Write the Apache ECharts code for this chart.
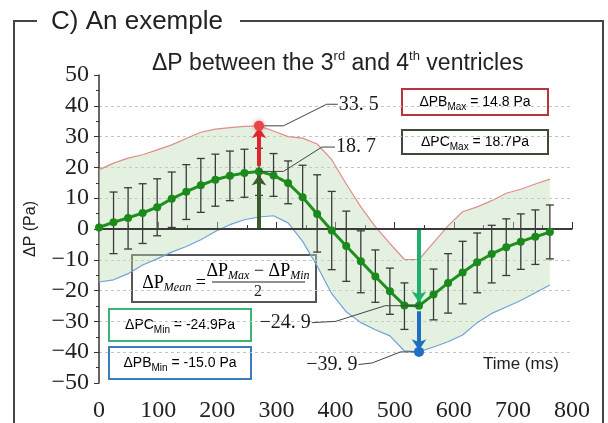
<!DOCTYPE html>
<html>
<head>
<meta charset="utf-8">
<script src="https://cdn.jsdelivr.net/npm/echarts@6/dist/echarts.min.js"></script>
<style>
  html, body { margin: 0; padding: 0; background: #fff; }
  #chart { width: 608px; height: 423px; }
</style>
</head>
<body>
<div id="chart"></div>
<script>
  // time of each sample (ms)
  var times = [0, 24.6, 49.2, 73.8, 98.4, 123, 147.6, 172.2, 196.8, 221.4, 246, 270.6, 295.2, 319.8, 344.4, 369,
    393.6, 418.2, 442.8, 467.4, 492, 516.6, 541.2, 565.8, 590.4, 615, 639.6, 664.2, 688.8, 713.4, 738, 762.6];
  // mean dP (green line)
  var meanPC = [0.5, 2.2, 3.6, 5.2, 7.1, 9.8, 12.1, 14.2, 16.0, 17.3, 18.2, 18.7, 17.4, 14.9, 10.3, 4.9,
    -0.5, -5.5, -10.5, -15.4, -20.2, -24.8, -24.9, -21.3, -17.5, -14.1, -10.8, -8.1, -5.9, -4.1, -2.5, -1.0];
  // error bar ends
  var barTop = [null, 12.0, 13.4, 14.7, 16.3, 18.5, 20.9, 22.9, 24.3, 25.3, 25.9, 26.2, 24.5, 22.1, 20.7, 17.6,
    12.2, 5.8, -0.6, -6.8, -12.7, -17.5, null, -13.0, -8.0, -4.0, -1.3, 1.2, 3.3, 4.9, 6.2, 7.8];
  var barBottom = [null, -8.0, -6.5, -4.7, -2.2, 0.5, 3.1, 5.4, 7.4, 9.2, 10.3, 10.9, 10.6, 8.2, 0.0, -7.5,
    -13.2, -17.0, -20.7, -23.8, -27.7, -32.6, null, -29.5, -27.3, -24.3, -20.7, -17.5, -15.1, -13.1, -11.5, -9.7];
  // envelope max (red) / min (blue)
  var maxPB = [19.2, 21.4, 23.0, 24.1, 25.7, 27.3, 29.4, 31.4, 32.4, 32.9, 33.3, 33.5, 31.8, 30.0, 29.5, 27.6,
    22.5, 14.6, 7.2, 0.8, -4.7, -9.9, -9.9, -4.4, 1.0, 5.6, 7.2, 9.2, 11.6, 12.9, 14.6, 16.2];
  var minPB = [-17.2, -16.5, -14.5, -11.7, -9.7, -7.5, -5.7, -3.5, -0.8, 1.4, 3.0, 3.9, 4.3, 2.0, -4.0, -12.0,
    -21.0, -26.9, -30.4, -32.7, -34.7, -39.6, -39.9, -38.3, -36.6, -34.4, -30.4, -27.4, -25.3, -23.2, -20.7, -18.2];
  var xTicks = [0, 100, 200, 300, 400, 500, 600, 700, 800];

  var iMax = 11, iMin = 22;
  var serif = '"Liberation Serif", "DejaVu Serif", serif';
  var sans = '"Liberation Sans", Arial, sans-serif';

  function pairs(arr) {
    return times.map(function (t, i) { return [t, arr[i]]; });
  }

  var chart = echarts.init(document.getElementById('chart'));

  function boxText(x, y, w, h, color, txt) {
    return {
      type: 'group', left: x, top: y,
      children: [
        { type: 'rect', shape: { x: 0, y: 0, width: w, height: h },
          style: { fill: '#fff', stroke: color, lineWidth: 2 } },
        { type: 'text', x: w / 2, y: h / 2,
          style: { text: txt, align: 'center', verticalAlign: 'middle',
            rich: {
              m: { fontFamily: sans, fontSize: 14, color: '#111', lineHeight: 20, verticalAlign: 'middle' },
              s: { fontFamily: sans, fontSize: 10, color: '#111', lineHeight: 12, verticalAlign: 'bottom' }
            } } }
      ]
    };
  }

  var formulaRich = {
    m: { fontFamily: serif, fontSize: 18, color: '#222', lineHeight: 22, verticalAlign: 'middle' },
    s: { fontFamily: serif, fontSize: 12, fontStyle: 'italic', color: '#222', lineHeight: 12, verticalAlign: 'bottom' }
  };

  var option = {
    animation: false,
    backgroundColor: '#fff',
    title: {
      text: '{m|ΔP between the 3}{s|rd}{m| and 4}{s|th}{m| ventricles}',
      left: 147, top: 45,
      textStyle: {
        fontWeight: 'normal',
        rich: {
          m: { fontFamily: sans, fontSize: 23, fontWeight: 'normal', color: '#222', lineHeight: 27, verticalAlign: 'middle' },
          s: { fontFamily: sans, fontSize: 13, fontWeight: 'normal', color: '#222', lineHeight: 13, verticalAlign: 'top' }
        }
      }
    },
    grid: { left: 99, right: 36, top: 75, bottom: 39 },
    xAxis: {
      type: 'value', min: 0, max: 800, interval: 100,
      axisLine: { lineStyle: { color: '#333', width: 1.5 } },
      axisTick: { inside: true, length: 7, lineStyle: { color: '#333' } },
      minorTick: { show: true, splitNumber: 2, length: 4, lineStyle: { color: '#333' } },
      splitLine: { show: false },
      axisLabel: { margin: 16, fontFamily: serif, fontSize: 24, color: '#222',
        customValues: xTicks }
    },
    yAxis: {
      type: 'value', min: -50, max: 50, interval: 10,
      name: 'ΔP (Pa)', nameLocation: 'middle', nameGap: 60, nameRotate: 90,
      nameTextStyle: { fontFamily: sans, fontSize: 16, color: '#222' },
      axisLine: { show: true, lineStyle: { color: '#333', width: 1.5 } },
      axisTick: { length: 5, lineStyle: { color: '#333' } },
      minorTick: { show: true, splitNumber: 2, length: 3, lineStyle: { color: '#333' } },
      splitLine: { show: true, showMinLine: false, showMaxLine: false,
        lineStyle: { color: '#c4c4c4', type: [3, 3], width: 1 } },
      axisLabel: { margin: 10, fontFamily: serif, fontSize: 24, color: '#222',
        formatter: function (v) { return v < 0 ? '\u2212' + (-v) : String(v); } }
    },
    graphic: [
      // frame
      { type: 'line', shape: { x1: 13, y1: 21, x2: 37, y2: 21 }, style: { stroke: '#444', lineWidth: 2 } },
      { type: 'line', shape: { x1: 14, y1: 20, x2: 14, y2: 423 }, style: { stroke: '#444', lineWidth: 2 } },
      { type: 'line', shape: { x1: 240, y1: 21, x2: 603, y2: 21 }, style: { stroke: '#444', lineWidth: 2 } },
      { type: 'line', shape: { x1: 603, y1: 20, x2: 603, y2: 423 }, style: { stroke: '#444', lineWidth: 2 } },
      { type: 'text', left: 51, top: 9,
        style: { text: 'C) An exemple', fontFamily: sans, fontSize: 26, fill: '#222' } },
      { type: 'text', left: 483, top: 356,
        style: { text: 'Time (ms)', fontFamily: sans, fontSize: 17, fill: '#222' } },
      boxText(401, 88, 146, 26, '#b8343c', '{m|ΔPB}{s|Max}{m| = 14.8 Pa}'),
      boxText(401, 129, 146, 24, '#3e4a38', '{m|ΔPC}{s|Max}{m| = 18.7Pa}'),
      boxText(108, 308, 142, 32, '#3cb474', '{m|ΔPC}{s|Min}{m| = -24.9Pa}'),
      boxText(108, 346, 142, 32, '#3a7dbf', '{m|ΔPB}{s|Min}{m| = -15.0 Pa}'),
      {
        type: 'group', left: 131, top: 254,
        children: [
          { type: 'rect', shape: { x: 0, y: 0, width: 184, height: 47 },
            style: { fill: '#fff', stroke: '#555', lineWidth: 2 } },
          { type: 'text', x: 42, y: 28,
            style: { text: '{m|ΔP}{s|Mean}{m| =}', align: 'center', verticalAlign: 'middle', rich: formulaRich } },
          { type: 'text', x: 126, y: 16,
            style: { text: '{m|ΔP}{s|Max}{m| − ΔP}{s|Min}', align: 'center', verticalAlign: 'middle', rich: formulaRich } },
          { type: 'line', shape: { x1: 80, y1: 27, x2: 173, y2: 27 }, style: { stroke: '#222', lineWidth: 1.2 } },
          { type: 'text', x: 126, y: 37,
            style: { text: '2', align: 'center', verticalAlign: 'middle', fontFamily: serif, fontSize: 16, fill: '#222' } }
        ]
      }
    ],
    series: [
      {
        // shaded envelope between min and max
        type: 'custom', z: 1, silent: true,
        data: [[times[0], maxPB[0]]],
        renderItem: function (params, api) {
          var pts = [];
          for (var i = 0; i < times.length; i++) pts.push(api.coord([times[i], maxPB[i]]));
          for (var j = times.length - 1; j >= 0; j--) pts.push(api.coord([times[j], minPB[j]]));
          return { type: 'polygon', shape: { points: pts },
            style: { fill: 'rgba(190,222,182,0.42)', stroke: 'none' } };
        }
      },
      {
        type: 'line', z: 2, data: pairs(maxPB), symbol: 'none', silent: true,
        lineStyle: { color: '#e08c8c', width: 1.2 }
      },
      {
        type: 'line', z: 2, data: pairs(minPB), symbol: 'none', silent: true,
        lineStyle: { color: '#6fa2d6', width: 1.2 }
      },
      {
        // error bars
        type: 'custom', z: 3, silent: true,
        data: times.map(function (t, i) { return [t, barTop[i], barBottom[i]]; })
          .filter(function (d) { return d[1] !== null; }),
        encode: { x: 0, y: [1, 2] },
        renderItem: function (params, api) {
          var top = api.coord([api.value(0), api.value(1)]);
          var bot = api.coord([api.value(0), api.value(2)]);
          var c = 4;
          var st = { stroke: '#3a3a3a', lineWidth: 1.3 };
          return {
            type: 'group',
            children: [
              { type: 'line', shape: { x1: top[0], y1: top[1], x2: bot[0], y2: bot[1] }, style: st },
              { type: 'line', shape: { x1: top[0] - c, y1: top[1], x2: top[0] + c, y2: top[1] }, style: st },
              { type: 'line', shape: { x1: bot[0] - c, y1: bot[1], x2: bot[0] + c, y2: bot[1] }, style: st }
            ]
          };
        }
      },
      {
        type: 'lines', coordinateSystem: 'cartesian2d', z: 4, silent: true,
        symbol: ['none', 'arrow'], symbolSize: 11,
        lineStyle: { opacity: 1, curveness: 0 },
        data: [
          { coords: [[times[iMax], 0], [times[iMax], meanPC[iMax] - 1.0]], lineStyle: { color: '#3d5a2c', width: 4, opacity: 1 } },
          { coords: [[times[iMax], meanPC[iMax] + 1.8], [times[iMax], maxPB[iMax] - 0.5]], lineStyle: { color: '#e0242c', width: 4, opacity: 1 } },
          { coords: [[times[iMin], 0], [times[iMin], meanPC[iMin] + 1.0]], lineStyle: { color: '#1fb070', width: 4, opacity: 1 } },
          { coords: [[times[iMin], meanPC[iMin] - 1.8], [times[iMin], minPB[iMin] + 0.5]], lineStyle: { color: '#1e6fc2', width: 4, opacity: 1 } }
        ]
      },
      {
        type: 'line', z: 5, data: pairs(meanPC), symbol: 'circle', symbolSize: 8, silent: true,
        lineStyle: { color: '#1f8f1f', width: 3 },
        itemStyle: { color: '#1a8a1a' },
        markLine: {
          silent: true, symbol: 'none', label: { show: false },
          lineStyle: { color: '#3a3a3a', width: 2, type: 'solid', opacity: 1 },
          data: [{ yAxis: 0 }]
        }
      },
      {
        type: 'scatter', z: 6, silent: true, symbolSize: 10,
        itemStyle: { opacity: 1 },
        data: [
          { value: [times[iMax], maxPB[iMax]], itemStyle: { color: '#e8444a', shadowBlur: 4, shadowColor: 'rgba(230,60,60,0.6)' } },
          { value: [times[iMin], minPB[iMin]], itemStyle: { color: '#1e6fc2' } }
        ]
      },
      {
        // leader lines to the value labels
        type: 'lines', coordinateSystem: 'cartesian2d', polyline: true, z: 6, silent: true,
        lineStyle: { color: '#444', width: 1, opacity: 1 },
        data: [
          { coords: [[times[iMax], maxPB[iMax]], [312, maxPB[iMax]], [385, 40.5], [404, 40.5]] },
          { coords: [[times[iMax], meanPC[iMax]], [312, meanPC[iMax]], [377, 26.6], [399, 26.6]] },
          { coords: [[times[iMin], meanPC[iMin]], [484, meanPC[iMin]], [400, -30.0], [360, -30.4]] },
          { coords: [[times[iMin], minPB[iMin]], [510, minPB[iMin]], [462, -43.5], [439, -44]] }
        ]
      },
      {
        type: 'scatter', z: 7, silent: true, symbolSize: 0,
        itemStyle: { opacity: 1 },
        label: { show: true, fontFamily: serif, fontSize: 20, color: '#1a1a1a', distance: 1, opacity: 1 },
        data: [
          { value: [404, 40.5], label: { position: 'right', formatter: '33. 5' } },
          { value: [399, 26.6], label: { position: 'right', formatter: '18. 7' } },
          { value: [360, -30.4], label: { position: 'left', formatter: '\u221224. 9' } },
          { value: [439, -44], label: { position: 'left', formatter: '\u221239. 9' } }
        ]
      }
    ]
  };
  chart.setOption(option);
</script>
</body>
</html>
